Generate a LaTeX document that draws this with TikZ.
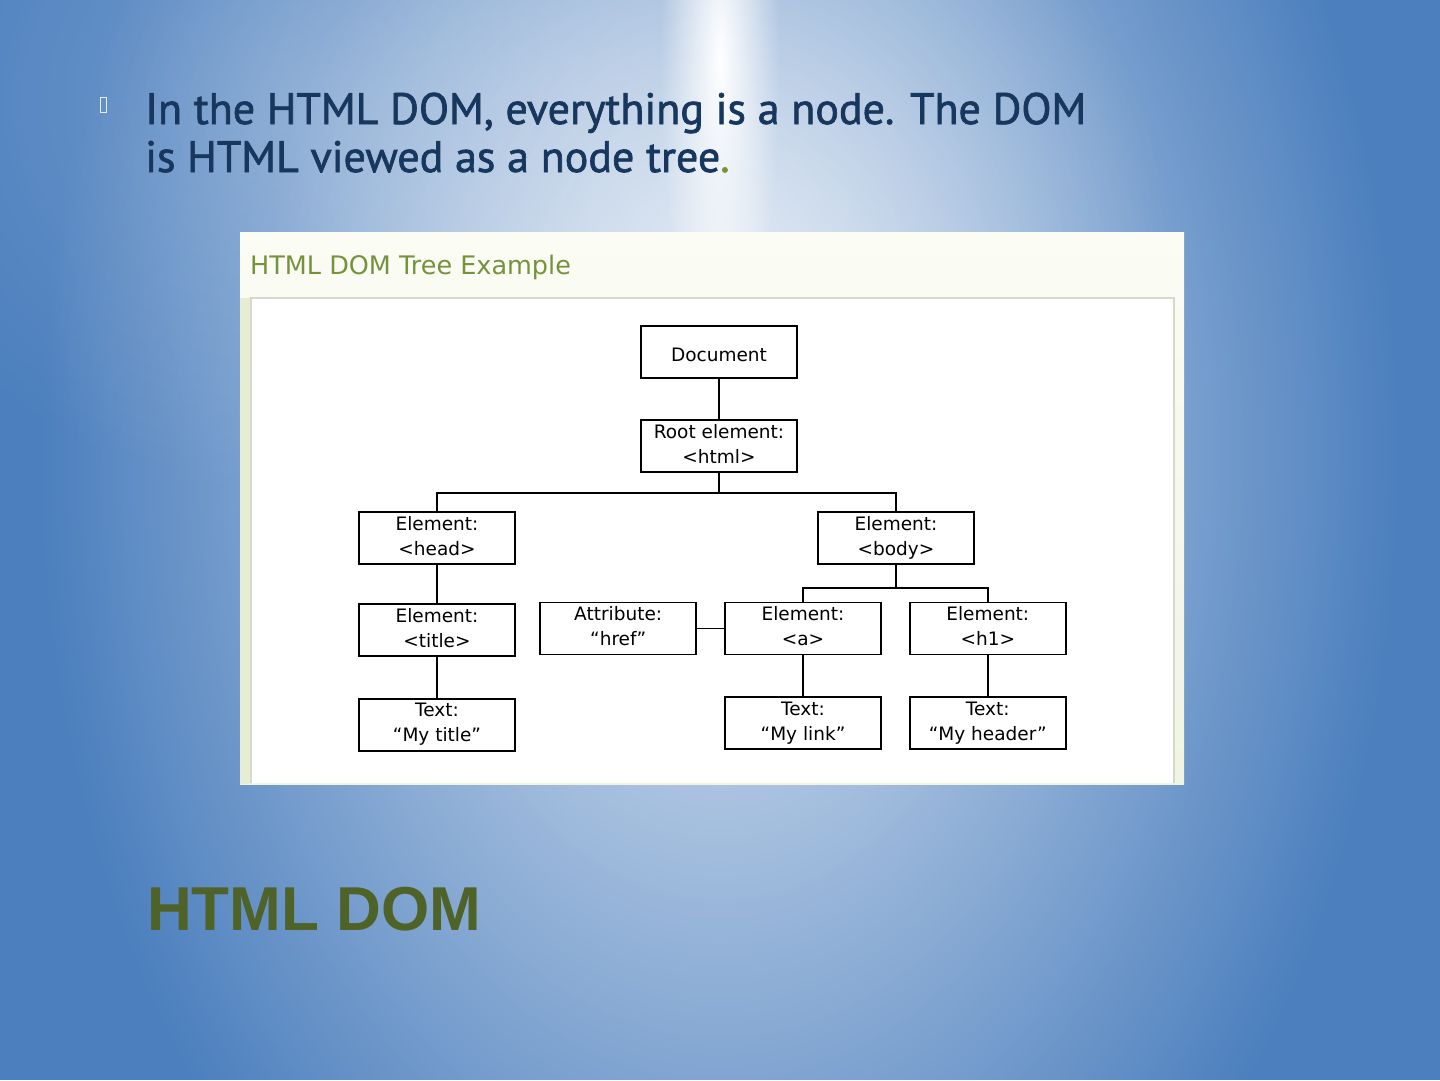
\documentclass[tikz,border=0pt]{standalone}
\usepackage{fontspec}
\setmainfont{PT Sans}
\newfontfamily\introfont{PT Sans}[FakeBold=1.5]
\newfontfamily\domfont{DejaVu Sans}
\newfontfamily\headfont{Liberation Sans}
\usetikzlibrary{positioning, fadings}

\definecolor{bgBlue}{RGB}{76,127,190}
\definecolor{slideBlue}{RGB}{23,55,94}
\definecolor{titleOlive}{RGB}{79,98,40}
\definecolor{frameGreen}{RGB}{118,146,60}
\definecolor{frameTop}{RGB}{251,252,244}
\definecolor{frameBottom}{RGB}{240,244,226}
\definecolor{frameSide}{RGB}{230,237,210}
\definecolor{panelLine}{RGB}{214,216,206}

\tikzfading[name=glow, inner color=transparent!0, outer color=transparent!100]

\begin{document}
\begin{tikzpicture}[
  x=1pt, y=-1pt,
  domnode/.style={draw, line width=1.8pt, rectangle, align=center, minimum width=156pt, minimum height=52pt, inner sep=0pt,
    font=\domfont\fontsize{18.5}{25}\selectfont,
    execute at begin node={\rule{0pt}{23.5pt}}, execute at end node={\rule[-4.5pt]{0pt}{1pt}}},
  link/.style={line width=1.7pt}
]

% Background
\useasboundingbox (0,0) rectangle (1440,1080);
\fill[bgBlue] (0,0) rectangle (1440,1080);
\begin{scope}
  \clip (0,0) rectangle (1440,1080);
  \fill[white, path fading=glow, opacity=0.8] (720,450) ellipse [x radius=680, y radius=1000];
  \fill[white, path fading=glow, opacity=0.5] (720,250) ellipse [x radius=450, y radius=450];
  \fill[white, path fading=glow, opacity=0.2] (300,100) ellipse [x radius=450, y radius=400];
  \fill[white, path fading=glow] (720,60) ellipse [x radius=60, y radius=330];
\end{scope}

% Slide text
\node (bullet) [draw=white!85!bgBlue, line width=0.8pt, minimum width=6pt, minimum height=15pt, inner sep=0pt] at (103.5,105) {};
\node (intro) [anchor=base west, align=left, inner sep=0pt, text=slideBlue, font=\introfont\fontsize{44}{48}\selectfont] at (145,172) {In the HTML DOM, everything is a node. The DOM\\is HTML viewed as a node tree\textcolor{frameGreen}{.}};
\node (heading) [anchor=base west, inner sep=0pt, text=titleOlive, font=\headfont\bfseries\fontsize{62}{70}\selectfont] at (147,930) {HTML DOM};

% Frame
\shade[top color=frameTop, bottom color=frameBottom] (240,232) rectangle (1184,784);
\fill[frameSide] (240,298) rectangle (251,784);
\fill[white] (251,298) rectangle (1174,783);
\draw[panelLine, line width=1.2pt] (251,783) -- (251,298) -- (1174,298) -- (1174,783);
\node (caption) [anchor=base west, inner sep=0pt, text=frameGreen, font=\domfont\fontsize{25.5}{28}\selectfont] at (250,274) {HTML DOM Tree Example};

% Nodes
\node (doc) [domnode] at (719,352) {Document};
\node (root) [domnode, below=40pt of doc] {Root element:\\<html>};
\node (head) [domnode] at (437,538) {Element:\\<head>};
\node (body) [domnode] at (896,538) {Element:\\<body>};
\node (title) [domnode, below=38pt of head] {Element:\\<title>};
\node (atag) [domnode] at (803,628.5) {Element:\\<a>};
\node (href) [domnode, left=27pt of atag] {Attribute:\\“href”};
\node (h1) [domnode, right=27pt of atag] {Element:\\<h1>};
\node (titletext) [domnode, below=41pt of title] {Text:\\“My title”};
\node (linktext) [domnode, below=41pt of atag] {Text:\\“My link”};
\node (headertext) [domnode, below=41pt of h1] {Text:\\“My header”};

% Connectors
\draw [link] (doc) -- (root);
\draw [link] (root.south) -- ++(0,20) coordinate (rootbus);
\draw [link] (head.north) |- (rootbus) -| (body.north);
\draw [link] (body.south) -- ++(0,23) coordinate (bodybus);
\draw [link] (atag.north) |- (bodybus) -| (h1.north);
\draw [link] (href) -- (atag);
\draw [link] (head) -- (title);
\draw [link] (title) -- (titletext);
\draw [link] (atag) -- (linktext);
\draw [link] (h1) -- (headertext);

\end{tikzpicture}
\end{document}
